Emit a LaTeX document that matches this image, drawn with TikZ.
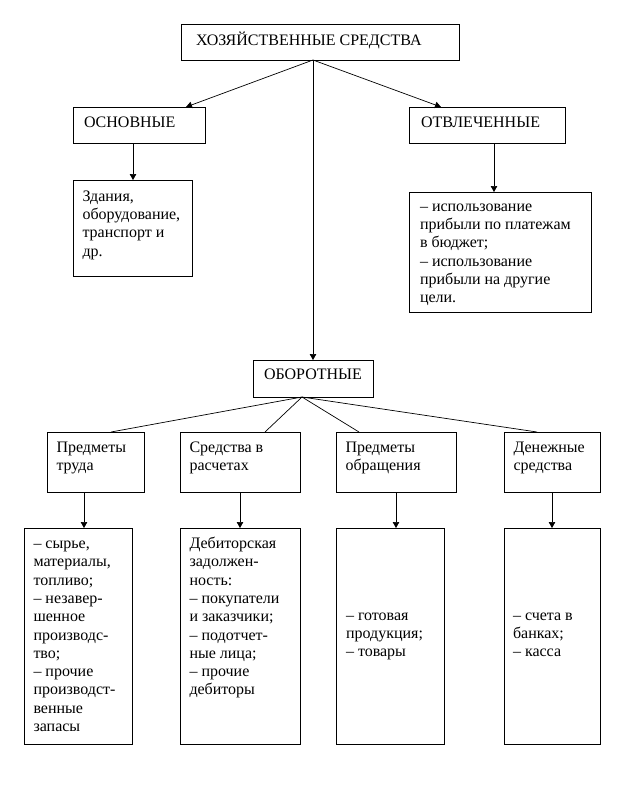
\documentclass[tikz,border=0pt]{standalone}
\usepackage{fontspec}
\setmainfont{Liberation Serif}
\usetikzlibrary{arrows.meta}
\begin{document}
\begin{tikzpicture}[x=1pt,y=-1pt,
 box/.style={draw, line width=0.9pt, inner sep=0pt, outer sep=0pt, anchor=north west},
 txt/.style={anchor=north west, inner sep=0pt, outer sep=0pt, align=left, font=\fontsize{16pt}{18.3pt}\selectfont},
 conn/.style={line width=0.7pt},
 arr/.style={conn, -{Triangle[length=6pt,width=6.5pt]}}]
\useasboundingbox[fill=white] (0,0) rectangle (637,793);
% boxes
\node[box, minimum width=278pt, minimum height=36pt] (top) at (181,24) {};
\node[box, minimum width=132pt, minimum height=36pt] (osn) at (73,107) {};
\node[box, minimum width=156pt, minimum height=36pt] (otv) at (409,107) {};
\node[box, minimum width=119pt, minimum height=96pt] (zd) at (73,180) {};
\node[box, minimum width=182pt, minimum height=120pt] (isp) at (409,192) {};
\node[box, minimum width=120pt, minimum height=37pt] (obor) at (253,360) {};
\node[box, minimum width=97pt, minimum height=60pt] (pt) at (47,432) {};
\node[box, minimum width=120pt, minimum height=60pt] (sr) at (180,432) {};
\node[box, minimum width=120pt, minimum height=60pt] (po) at (336,432) {};
\node[box, minimum width=96pt, minimum height=60pt] (ds) at (504,432) {};
\node[box, minimum width=108pt, minimum height=216pt] (ptd) at (24,528) {};
\node[box, minimum width=120pt, minimum height=216pt] (srd) at (180,528) {};
\node[box, minimum width=108pt, minimum height=216pt] (pod) at (336,528) {};
\node[box, minimum width=96pt, minimum height=216pt] (dsd) at (504,528) {};
% texts
\node[txt] (topT) at ([shift={(15,7.7)}]top.north west) {\strut ХОЗЯЙСТВЕННЫЕ СРЕДСТВА};
\node[txt] (osnT) at ([shift={(11,7.7)}]osn.north west) {\strut ОСНОВНЫЕ};
\node[txt] (otvT) at ([shift={(12,7.7)}]otv.north west) {\strut ОТВЛЕЧЕННЫЕ};
\node[txt] (zdT) at ([shift={(9.5,8.3)}]zd.north west) {\strut Здания,\\ оборудование,\\ транспорт и\\ др.};
\node[txt] (ispT) at ([shift={(11,6.5)}]isp.north west) {\strut – использование\\ прибыли по платежам\\ в бюджет;\\ – использование\\ прибыли на другие\\ цели.};
\node[txt] (oborT) at ([shift={(11,6.8)}]obor.north west) {\strut ОБОРОТНЫЕ};
\node[txt] (ptT) at ([shift={(9.5,7.3)}]pt.north west) {\strut Предметы\\ труда};
\node[txt] (srT) at ([shift={(9.5,7.3)}]sr.north west) {\strut Средства в\\ расчетах};
\node[txt] (poT) at ([shift={(9.5,7.3)}]po.north west) {\strut Предметы\\ обращения};
\node[txt] (dsT) at ([shift={(9.5,7.3)}]ds.north west) {\strut Денежные\\ средства};
\node[txt] (ptdT) at ([shift={(9.5,7.7)}]ptd.north west) {\strut – сырье,\\ материалы,\\ топливо;\\ – незавер-\\ шенное\\ производс-\\ тво;\\ – прочие\\ производст-\\ венные\\ запасы};
\node[txt] (srdT) at ([shift={(9.5,7.7)}]srd.north west) {\strut Дебиторская\\ задолжен-\\ ность:\\ – покупатели\\ и заказчики;\\ – подотчет-\\ ные лица;\\ – прочие\\ дебиторы};
\node[txt] (podT) at ([shift={(10,79.2)}]pod.north west) {\strut – готовая\\ продукция;\\ – товары};
\node[txt] (dsdT) at ([shift={(9,79.2)}]dsd.north west) {\strut – счета в\\ банках;\\ – касса};
% connector points
\coordinate (hubA) at (313,60);
\coordinate (osnIn) at (186,107);
\coordinate (otvIn) at (441,107);
\coordinate (oborIn) at (313,360);
\coordinate (hubB) at (302,397);
\coordinate (ptIn) at (111,432);
\coordinate (srIn) at (265,432);
\coordinate (poIn) at (359,432);
\coordinate (dsIn) at (537,432);
\draw[arr] (hubA) -- (osnIn);
\draw[arr] (hubA) -- (otvIn);
\draw[arr] (hubA) -- (oborIn);
\draw[conn] (hubB) -- (ptIn);
\draw[conn] (hubB) -- (srIn);
\draw[conn] (hubB) -- (poIn);
\draw[conn] (hubB) -- (dsIn);
% vertical arrows
\coordinate (a1) at (133,143); \coordinate (b1) at (133,180);
\coordinate (a2) at (494,143); \coordinate (b2) at (494,192);
\coordinate (a3) at (84,492);  \coordinate (b3) at (84,528);
\coordinate (a4) at (240,492); \coordinate (b4) at (240,528);
\coordinate (a5) at (396,492); \coordinate (b5) at (396,528);
\coordinate (a6) at (552,492); \coordinate (b6) at (552,528);
\draw[arr] (a1) -- (b1);
\draw[arr] (a2) -- (b2);
\draw[arr] (a3) -- (b3);
\draw[arr] (a4) -- (b4);
\draw[arr] (a5) -- (b5);
\draw[arr] (a6) -- (b6);
\end{tikzpicture}
\end{document}
